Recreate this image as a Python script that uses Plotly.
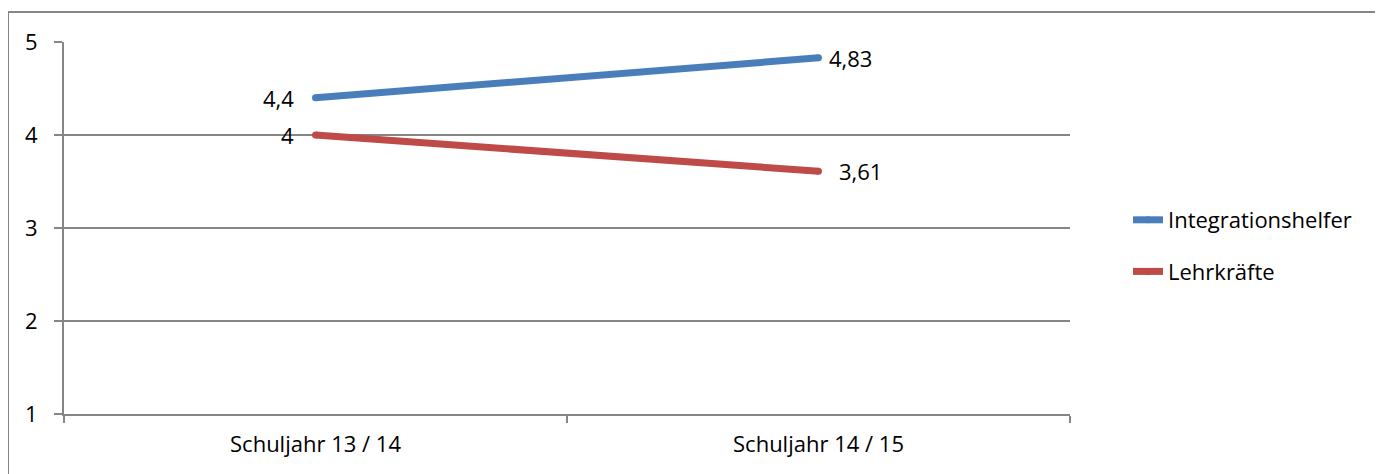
import plotly.graph_objects as go

categories = ["Schuljahr 13 / 14", "Schuljahr 14 / 15"]
integrationshelfer = [4.4, 4.83]
lehrkraefte = [4.0, 3.61]
series_names = ["Integrationshelfer", "Lehrkräfte"]
y_ticks = [1, 2, 3, 4, 5]

colors = ["#4A7EBB", "#BE4B48"]
FONT = "Open Sans"
FS = 22
W, H = 1375, 466
L, R, T, B = 56, 313, 34, 60
pw, ph = W - L - R, H - T - B

fig = go.Figure()
for i, (name, vals) in enumerate(zip(series_names, [integrationshelfer, lehrkraefte])):
    fig.add_trace(go.Scatter(
        x=categories, y=vals, name=name, mode="lines+markers",
        line=dict(color=colors[i], width=7),
        marker=dict(color=colors[i], size=7),
        legendgroup=name, hoverinfo="skip",
    ))

def fmt(v):
    return ("%g" % v).replace(".", ",")

# data labels: first point left, second point right
label_shifts = {0: [-20, 8], 1: [-20, 18]}
annotations = []
for i, vals in enumerate([integrationshelfer, lehrkraefte]):
    for j, v in enumerate(vals):
        annotations.append(dict(
            x=categories[j], y=v, xref="x", yref="y", text=fmt(v),
            showarrow=False, xanchor="right" if j == 0 else "left",
            yanchor="middle", xshift=label_shifts[i][j],
            font=dict(family=FONT, size=FS, color="#000000"),
        ))

# outer border (top and left visible)
bx0 = (0 - L) / pw
by1 = 1 + (T - 4) / ph
shapes = [dict(type="rect", xref="paper", yref="paper", x0=bx0, x1=1.5,
               y0=-0.5, y1=by1, line=dict(color="#868686", width=2), layer="below")]

fig.update_layout(
    width=W, height=H,
    margin=dict(l=L, r=R, t=T, b=B, pad=0),
    paper_bgcolor="white", plot_bgcolor="white",
    font=dict(family=FONT, size=FS, color="#000000"),
    showlegend=True,
    legend=dict(x=(1125 - 5 - L) / pw, xanchor="left", y=(H - B - 238) / ph, yanchor="middle",
                traceorder="grouped", tracegroupgap=20,
                font=dict(family=FONT, size=FS, color="#000000"),
                bgcolor="rgba(0,0,0,0)", borderwidth=0),
    xaxis=dict(type="category", range=[-0.5, 1.5], tickson="boundaries",
               ticks="outside", ticklen=7, tickwidth=2, tickcolor="#868686",
               showline=True, linecolor="#868686", linewidth=2,
               showgrid=False, zeroline=False, ticklabelstandoff=10,
               fixedrange=True),
    yaxis=dict(range=[1, 5], tickvals=y_ticks, ticktext=[str(t) for t in y_ticks],
               ticks="outside", ticklen=8, tickwidth=2, tickcolor="#868686",
               showline=True, linecolor="#868686", linewidth=2,
               showgrid=True, gridcolor="#868686", gridwidth=2,
               zeroline=False, ticklabelstandoff=12, fixedrange=True),
    annotations=annotations,
    shapes=shapes,
)

fig.write_html("out.html")
